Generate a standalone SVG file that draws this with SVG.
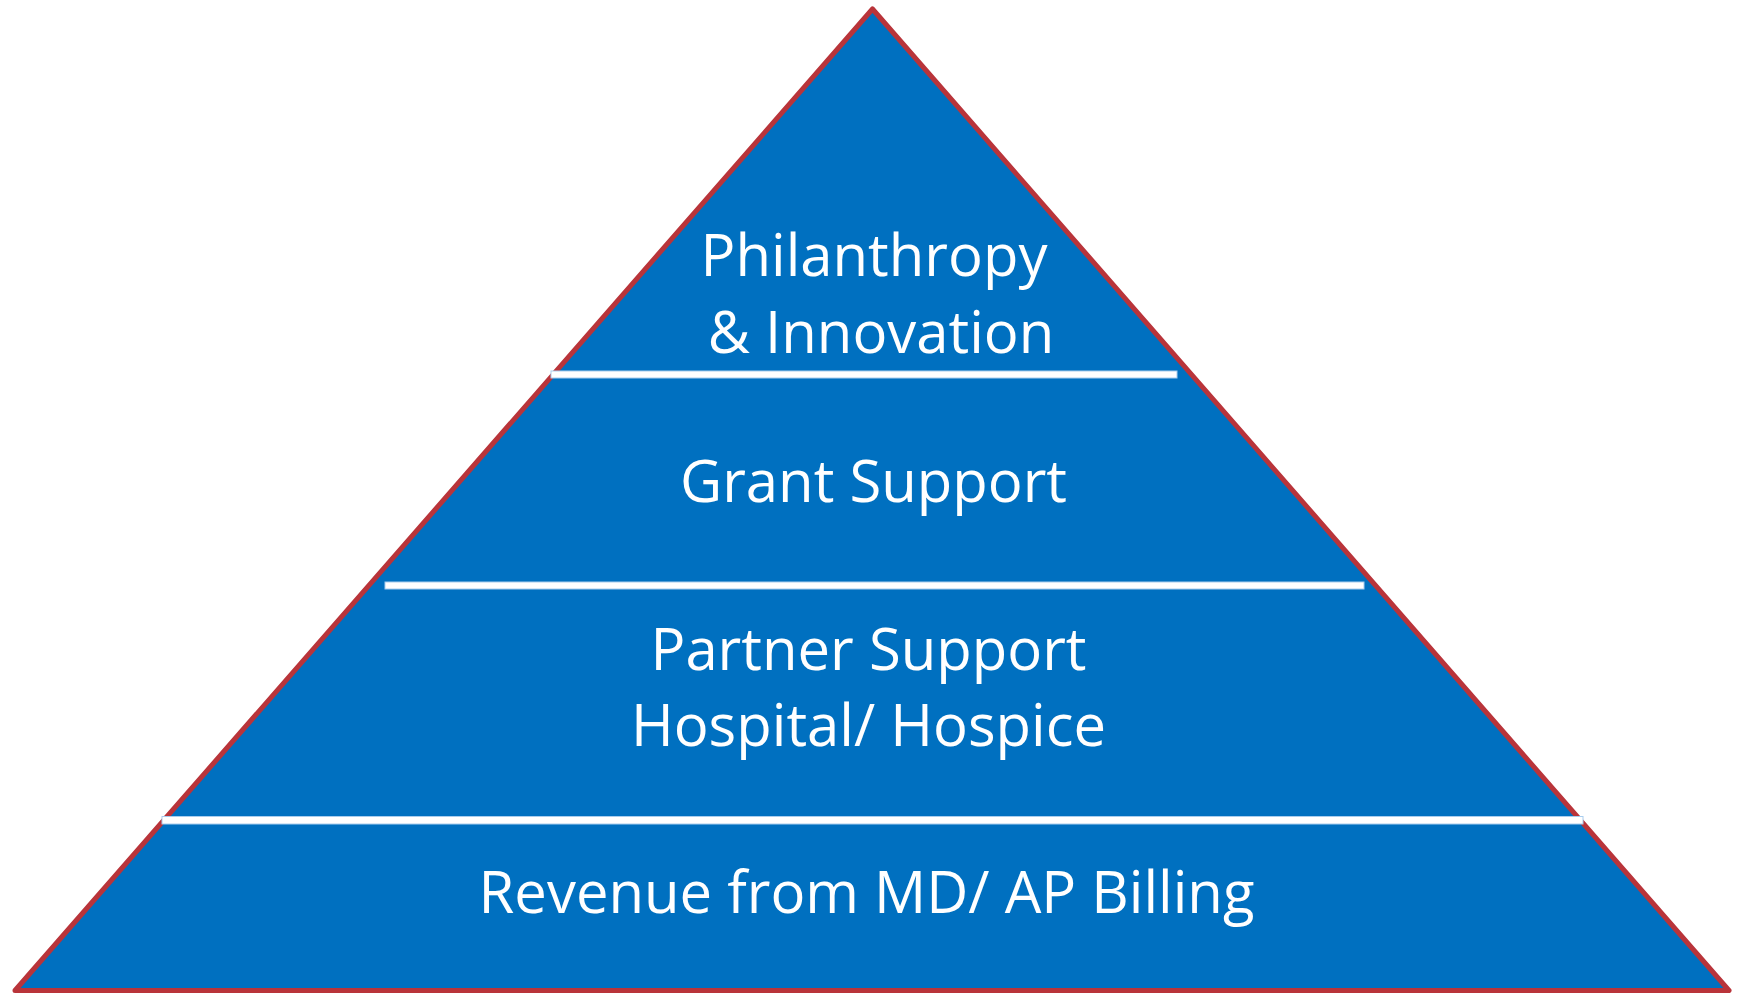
<svg xmlns="http://www.w3.org/2000/svg" width="1745" height="994" viewBox="0 0 1745 994">
  <style>
    .tier { fill: #ffffff; font-family: "Open Sans", "Noto Sans", "Liberation Sans", sans-serif; font-size: 58px; font-weight: 400; text-anchor: middle; }
    .sep { fill: #ffffff; stroke: #a9cdee; stroke-width: 1; }
  </style>
  <rect width="1745" height="994" fill="#ffffff"/>
  <!-- pyramid body -->
  <g id="pyramid">
    <path d="M872.5,9 L1729,990.5 L15,990.5 Z" fill="#0070C0" stroke="#B9343A" stroke-width="5" stroke-linejoin="round"/>
  </g>
  <!-- tier dividers -->
  <g id="dividers">
    <rect class="sep" x="551" y="371" width="626" height="7"/>
    <rect class="sep" x="385" y="582" width="979" height="7"/>
    <rect class="sep" x="162" y="816.5" width="1421" height="7.5"/>
  </g>
  <g id="tier-philanthropy">
    <text class="tier" x="874" y="276">Philanthropy</text>
    <text class="tier" x="881" y="353">&amp; Innovation</text>
  </g>
  <g id="tier-grant">
    <text class="tier" x="873.5" y="502">Grant Support</text>
  </g>
  <g id="tier-partner">
    <text class="tier" x="868.5" y="670">Partner Support</text>
    <text class="tier" x="868.5" y="746">Hospital/ Hospice</text>
  </g>
  <g id="tier-revenue">
    <text class="tier" x="866.5" y="913">Revenue from MD/ AP Billing</text>
  </g>
</svg>
